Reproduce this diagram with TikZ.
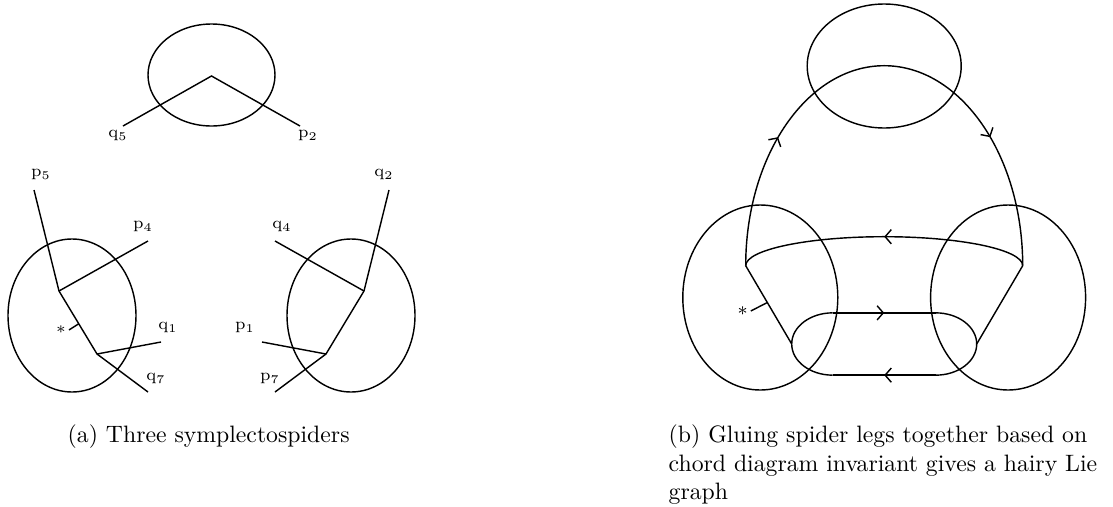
\documentclass[tikz,border=0pt]{standalone}
\usetikzlibrary{arrows.meta,decorations.markings,calc}

\begin{document}
\begin{tikzpicture}[x=0.4215pt,y=-0.4215pt,line width=0.6pt,
    lbl/.style={font=\scriptsize,inner sep=1pt},
    midarrow/.style={postaction={decorate,decoration={markings,
        mark=at position #1 with {\arrow{Straight Barb[length=2.6pt,width=6pt]}}}}}]
  \useasboundingbox (0,0) rectangle (1113,506);
  % (a) the three spiders
  \begin{scope}
    \draw (211.5,75) ellipse[x radius=63.5,y radius=51];
    \coordinate (t) at (211.5,76);
    \coordinate (q5e) at (123,126);
    \coordinate (p2e) at (300,126);
    \draw (q5e) -- (t) -- (p2e);
    \node[lbl] (q5) at (118,136) {$\mathrm{q}_5$};
    \node[lbl] (p2) at (308,136) {$\mathrm{p}_2$};
  \end{scope}
  \begin{scope}
    \draw (72,315.5) ellipse[x radius=64,y radius=76.5];
    \coordinate (la) at (59,291);
    \coordinate (lb) at (97,354);
    \coordinate (p5e) at (34,190);
    \coordinate (p4e) at (148,241);
    \coordinate (q1e) at (161,342);
    \coordinate (q7e) at (148,392);
    \draw (p5e) -- (la) -- (lb) -- (q7e);
    \draw (la) -- (p4e);
    \draw (lb) -- (q1e);
    \node[lbl] (p5) at (41,175) {$\mathrm{p}_5$};
    \node[lbl] (p4) at (143,227) {$\mathrm{p}_4$};
    \node[lbl] (q1) at (168,328) {$\mathrm{q}_1$};
    \node[lbl] (q7) at (156,379) {$\mathrm{q}_7$};
    \node[lbl] (stara) at (61,330) {$*$};
    \draw ($(la)!0.52!(lb)$) -- (stara.east);
  \end{scope}
  \begin{scope}
    \draw (351,315.5) ellipse[x radius=64,y radius=76.5];
    \coordinate (rc) at (364,291);
    \coordinate (rd) at (326,354);
    \coordinate (q2e) at (389,190);
    \coordinate (q4e) at (275,241);
    \coordinate (p1e) at (262,342);
    \coordinate (p7e) at (275,392);
    \draw (q2e) -- (rc) -- (rd) -- (p7e);
    \draw (rc) -- (q4e);
    \draw (rd) -- (p1e);
    \node[lbl] (q2) at (384,175) {$\mathrm{q}_2$};
    \node[lbl] (q4) at (282,227) {$\mathrm{q}_4$};
    \node[lbl] (p1) at (245,328) {$\mathrm{p}_1$};
    \node[lbl] (p7) at (270,379) {$\mathrm{p}_7$};
  \end{scope}
  \node[anchor=base west,inner sep=0] (capa) at (67,442) {(a) Three symplectospiders};

  % (b) the glued graph
  \begin{scope}
    \draw (884.2,66) ellipse[x radius=77,y radius=62];
    \draw (760.3,297.5) ellipse[x radius=77.5,y radius=92.5];
    \draw (1008.1,297.5) ellipse[x radius=77.5,y radius=92.5];
    \coordinate (L) at (745.7,265.7);
    \coordinate (R) at (1022.7,265.7);
    \coordinate (lend) at (791.7,344);
    \coordinate (rend) at (976.7,344);
    \coordinate (s1) at (832.7,312.85);
    \coordinate (s2) at (935.7,312.85);
    \coordinate (s3) at (935.7,375.15);
    \coordinate (s4) at (832.7,375.15);
    \draw[midarrow=0.25,midarrow=0.75] (L) arc[start angle=180,end angle=360,x radius=138.5,y radius=200];
    \draw[midarrow=0.5] (R) arc[start angle=360,end angle=180,x radius=138.5,y radius=29];
    \draw (L) -- (lend);
    \draw (R) -- (rend);
    \draw[midarrow=0.5] (s1) -- (s2);
    \draw (s2) arc[start angle=270,end angle=450,x radius=41,y radius=31.15];
    \draw[midarrow=0.5] (s3) -- (s4);
    \draw (s4) arc[start angle=90,end angle=270,x radius=41,y radius=31.15];
    \node[lbl,font=\footnotesize] (starb) at (742.7,311) {$*$};
    \draw ($(L)!0.47!(lend)$) -- (starb.east);
  \end{scope}
  \node[anchor=north west,inner sep=0,align=left] (capb) at (668,424.2)
    {(b) Gluing spider legs together based on\\chord diagram invariant gives a hairy Lie\\graph};
\end{tikzpicture}
\end{document}
